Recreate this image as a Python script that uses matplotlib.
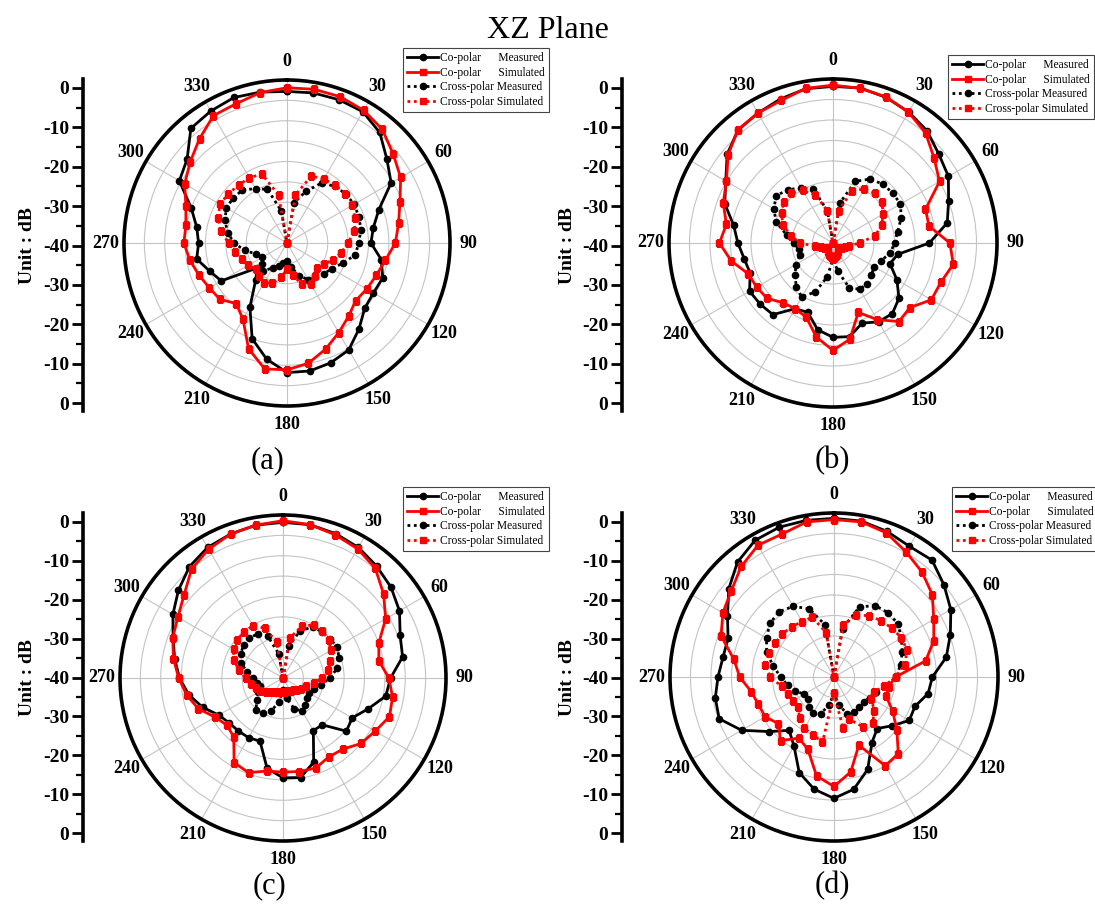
import numpy as np
import matplotlib
matplotlib.use("Agg")
import matplotlib.pyplot as plt
from matplotlib.ticker import FixedLocator

W, H = 1095, 906

angles_deg = [0, 10, 20, 30, 40, 50, 60, 70, 80, 90, 100, 110, 120, 130, 140, 150, 160, 170,
              180, 190, 200, 210, 220, 230, 240, 250, 260, 270, 280, 290, 300, 310, 320, 330, 340, 350]

# ---------------- panel (a) ----------------
a_co_meas = [-2.8, -2.6, -2.6, -2.8, -4.6, -8, -10.5, -16, -18.5, -19.4, -16.5, -15, -15.5, -15.1, -12.5, -9.7,
             -8.7, -8.1, -8.2, -11.1, -15, -21.8, -28, -30.5, -21.4, -19.8, -17.5, -18.3, -17.5, -15, -9.5, -8,
             -3.3, -2.6, -2.0, -2.4]
a_co_sim = [-1.9, -1.7, -1.8, -2.4, -3.6, -6, -7.8, -10.5, -12.2, -13.4, -15.5, -16.7, -17.4, -18, -16.5, -14.6,
            -12.3, -10, -8.9, -8.6, -12.4, -18.4, -20.6, -18.5, -18, -17, -15.8, -14.7, -14.8, -13.6, -11, -9,
            -6.6, -3.9, -3.6, -2.5]
a_x_meas = [-40, -30, -26.5, -23, -21.8, -21.2, -21, -21.2, -21.6, -22.4, -23, -25.5, -27.3, -28.3, -29.2, -29.6,
            -31.5, -34, -35.5, -35, -34, -33, -31, -32, -33, -32, -29.5, -27, -25.2, -23.8, -22.8, -22.8,
            -23, -24.6, -26, -32]
a_x_sim = [-40, -28, -22.5, -21.9, -21.5, -21.4, -21.5, -22.2, -23.2, -25, -26.5, -28, -29.5, -30.3, -29.5, -28.4,
           -29.2, -32, -33.5, -31.5, -29.5, -28.7, -29.5, -30, -29, -28.2, -27, -25.7, -23.5, -22, -21, -21.2,
           -21.5, -21.5, -22, -28]

# ---------------- panel (b) ----------------
b_co_meas = [-1.8, -1.6, -2.2, -3.1, -4.3, -6.3, -7.5, -10, -11.7, -16.5, -24, -25.2, -22, -19, -17.5, -17.8,
             -19.2, -16.8, -17, -18.5, -22, -21.5, -17.2, -16.8, -16.5, -18.5, -18, -16.8, -15.4, -11.9, -9.8,
             -6.3, -4, -3.4, -2.6, -1.8]
b_co_sim = [-1.5, -1.7, -2.1, -3.2, -4.9, -7.8, -10, -16, -16.2, -11.5, -10.2, -12, -12.3, -15.5, -15, -18.4,
            -22, -16.2, -13.8, -16.7, -20.8, -21.5, -21, -19, -18.5, -18, -14.8, -12.3, -13.6, -11.5, -10, -6.6,
            -3.9, -3.4, -3, -1.7]
b_x_meas = [-40, -30, -24, -22, -21.2, -21, -21, -22.3, -24, -25, -25.8, -27.5, -28.4, -27.8, -27, -27, -28.3,
            -33, -36, -31.5, -27.3, -24.8, -26, -28, -29.5, -31.5, -31.5, -30.5, -28.5, -25.3, -23.3, -22, -23,
            -24.5, -26, -32]
b_x_sim = [-40, -32, -26.5, -24.8, -24.2, -24.5, -25.8, -27.4, -29.5, -33.5, -36, -37, -37.5, -38, -38, -37.5,
           -37, -36.5, -36, -36.5, -37, -37.5, -38, -38, -37.5, -37, -35.5, -32, -29.5, -27, -25.5, -24.3, -24.2,
           -25.2, -27.5, -32]

# ---------------- panel (c) ----------------
c_co_meas = [-1.8, -1.8, -2.3, -3.0, -4.2, -5.4, -7, -9.4, -10.2, -13.6, -14.4, -17.8, -20.4, -19.7, -25, -25.1,
             -18, -15.2, -15.5, -17.5, -23.5, -23.1, -23, -22.8, -21.8, -19, -16.5, -14.6, -13, -11.3, -8.8, -6.5,
             -4.3, -3.0, -2.4, -1.9]
c_co_sim = [-1.4, -1.8, -2.6, -3.4, -4.8, -7.8, -10.9, -15, -16.1, -14, -12.7, -12.2, -13.9, -15, -17.2, -17.6,
            -16.5, -16.7, -16.9, -16.8, -15.3, -16, -21.2, -22, -20.8, -17.9, -16, -14.4, -12.7, -11.2, -10.2,
            -8.3, -5.1, -3.5, -2.4, -1.9]
c_x_meas = [-40, -32, -27.7, -25.5, -25.2, -25, -24.6, -25.4, -26.5, -28.5, -30.5, -32, -32.5, -32.3, -31.5,
            -30.6, -32, -35, -37, -34, -31.3, -30, -29.7, -31.6, -33, -34, -33.5, -32.6, -31, -29, -28, -27.4,
            -27.2, -27.5, -29, -34]
c_x_sim = [-40, -30, -26.4, -25, -25, -25.4, -26.5, -27.7, -28.8, -30.5, -32.3, -34, -34.8, -35.5, -36, -36.3,
           -36.5, -36.5, -36.5, -36.5, -36.3, -36, -35.5, -34.5, -33.5, -33, -32, -30.8, -29, -27.2, -26, -25.4,
           -25.2, -25.2, -27, -31]

# ---------------- panel (d) ----------------
d_co_meas = [-1.3, -1.4, -2.2, -3.2, -2.8, -5, -7.1, -9.8, -12.2, -16, -16.7, -19, -18.8, -21.5, -23.6, -21.5,
             -16, -12.2, -10.4, -12.2, -15.2, -20.5, -23, -19.3, -14, -10.2, -10.6, -11.7, -12.5, -12.5, -10,
             -6.5, -3.4, -1.5, -1.1, -1.2]
d_co_sim = [-1.6, -1.6, -2.6, -4.8, -6.6, -8.7, -11.9, -14.1, -17.3, -25, -26.5, -26.5, -23.5, -20, -15.6, -15,
            -22.3, -16.5, -13.3, -15.5, -21.3, -22.8, -19.7, -22.3, -20.6, -20.4, -19.5, -17, -15.2, -10.7, -8.7,
            -7.3, -4.8, -2.9, -2.9, -1.6]
d_x_meas = [-40, -28, -21.8, -19.9, -19.5, -19.7, -21, -22.3, -23.5, -25, -27, -29, -30, -30.5, -30.5, -30.2,
            -30.4, -33, -36, -33, -30.5, -29.8, -30.5, -31.7, -31.6, -30, -28.5, -27, -25, -22.5, -21, -19.6,
            -19.2, -20.1, -22.3, -27]
d_x_sim = [-40, -27, -24, -22.7, -22.1, -21.5, -21, -21, -22.5, -25, -27.5, -29.5, -29.5, -27.2, -25.3, -26, -29,
           -27.4, -36, -23.8, -25, -25.5, -27, -28.5, -28.5, -28, -27, -24.5, -22.8, -23.2, -23.5, -23.6, -24,
           -24.4, -24.5, -29]

theta_labels = ["0", "30", "60", "90", "120", "150", "180", "210", "240", "270", "300", "330"]
y_tick_labels = ["0", "-10", "-20", "-30", "-40", "-30", "-20", "-10", "0"]
legend_labels = ["Co-polar      Measured", "Co-polar      Simulated",
                 "Cross-polar Measured", "Cross-polar Simulated"]
panel_names = ["(a)", "(b)", "(c)", "(d)"]

SERIF = "Liberation Serif"

fig = plt.figure(figsize=(W / 100, H / 100), dpi=100)
fig.patch.set_facecolor("white")


def fx(px):
    return px / W


def fy(py):
    return 1 - py / H


def panel(cx, cy, r, axis_x, ytop0, ybot0, leg_xy, name_xy, name, series):
    ax = fig.add_axes([fx(cx - r), fy(cy + r), 2 * r / W, 2 * r / H], projection="polar")
    ax.set_theta_zero_location("N")
    ax.set_theta_direction(-1)
    ax.set_ylim(-40, 0)
    ax.set_yticks(np.arange(-35, 0, 5))
    ax.set_yticklabels([])
    ax.set_xticks(np.deg2rad(np.arange(0, 360, 30)))
    ax.set_xticklabels(theta_labels, fontfamily=SERIF, fontweight="bold", fontsize=13)
    ax.xaxis.set_minor_locator(FixedLocator(np.deg2rad(np.arange(15, 360, 30))))
    ax.tick_params(axis="x", which="major", direction="in", length=9, width=2, pad=6)
    ax.tick_params(axis="x", which="minor", direction="in", length=5, width=1.5)
    ax.grid(True, color="#c4c4c4", lw=0.8)
    ax.spines["polar"].set_linewidth(2.6)

    th = np.deg2rad(angles_deg + [360])
    co_m, co_s, x_m, x_s = [list(s) + [s[0]] for s in series]
    ax.plot(th, co_m, color="black", lw=2, marker="o", ms=4.5, label=legend_labels[0], zorder=4)
    ax.plot(th, co_s, color="#ff0000", lw=2, marker="s", ms=4.5, label=legend_labels[1], zorder=5)
    ax.plot(th, x_m, color="black", lw=2, ls=(0, (1, 1.3)), marker="o", ms=4.5, label=legend_labels[2], zorder=4)
    ax.plot(th, x_s, color="#ff0000", lw=2, ls=(0, (1, 1.3)), marker="s", ms=4.5, label=legend_labels[3], zorder=5)

    leg = ax.legend(loc="upper left", bbox_to_anchor=(fx(leg_xy[0]), fy(leg_xy[1])),
                    bbox_transform=fig.transFigure, borderaxespad=0, fancybox=False,
                    edgecolor="#444444", framealpha=1, prop={"family": SERIF, "size": 8.3},
                    handlelength=2.7, handletextpad=0.2, labelspacing=0.22, borderpad=0.35)
    leg.get_frame().set_linewidth(0.8)

    # left linear dB axis
    ppu = (ybot0 - ytop0) / 80.0
    top_px, bot_px = ytop0 - 9, ybot0 + 8
    ay = fig.add_axes([fx(axis_x), fy(bot_px), 0.0005, (bot_px - top_px) / H])
    ay.set_ylim(-40 - (bot_px - ybot0) / ppu, 40 + (ytop0 - top_px) / ppu)
    ay.patch.set_visible(False)
    for s in ["top", "right", "bottom"]:
        ay.spines[s].set_visible(False)
    ay.spines["left"].set_linewidth(2.6)
    ay.set_xticks([])
    ay.set_yticks(np.arange(40, -41, -10))
    ay.set_yticklabels(y_tick_labels, fontfamily=SERIF, fontweight="bold", fontsize=14)
    ay.yaxis.set_minor_locator(FixedLocator(np.arange(-35, 40, 10)))
    ay.tick_params(axis="y", which="major", direction="out", length=8, width=2, pad=2)
    ay.tick_params(axis="y", which="minor", direction="out", length=5, width=1.6)
    fig.text(fx(axis_x - 55), fy((ytop0 + ybot0) / 2), "Unit : dB", rotation=90, ha="center",
             va="center", fontfamily=SERIF, fontweight="bold", fontsize=14)

    fig.text(fx(name_xy[0]), fy(name_xy[1]), name, ha="center", va="center",
             fontfamily=SERIF, fontsize=22)


panel(287, 243, 163, 83, 88, 403, (403, 48), (268, 461), panel_names[0],
      (a_co_meas, a_co_sim, a_x_meas, a_x_sim))
panel(833, 243, 164, 622, 88, 403, (948, 55), (832, 461), panel_names[1],
      (b_co_meas, b_co_sim, b_x_meas, b_x_sim))
panel(283, 678, 163, 83, 522, 833, (403, 487), (270, 886), panel_names[2],
      (c_co_meas, c_co_sim, c_x_meas, c_x_sim))
panel(834, 677, 164, 622, 522, 833, (952, 487), (832, 886), panel_names[3],
      (d_co_meas, d_co_sim, d_x_meas, d_x_sim))

fig.text(fx(548), fy(30), "XZ Plane", ha="center", va="center", fontfamily=SERIF, fontsize=23)

fig.savefig("out.png", dpi=100)
